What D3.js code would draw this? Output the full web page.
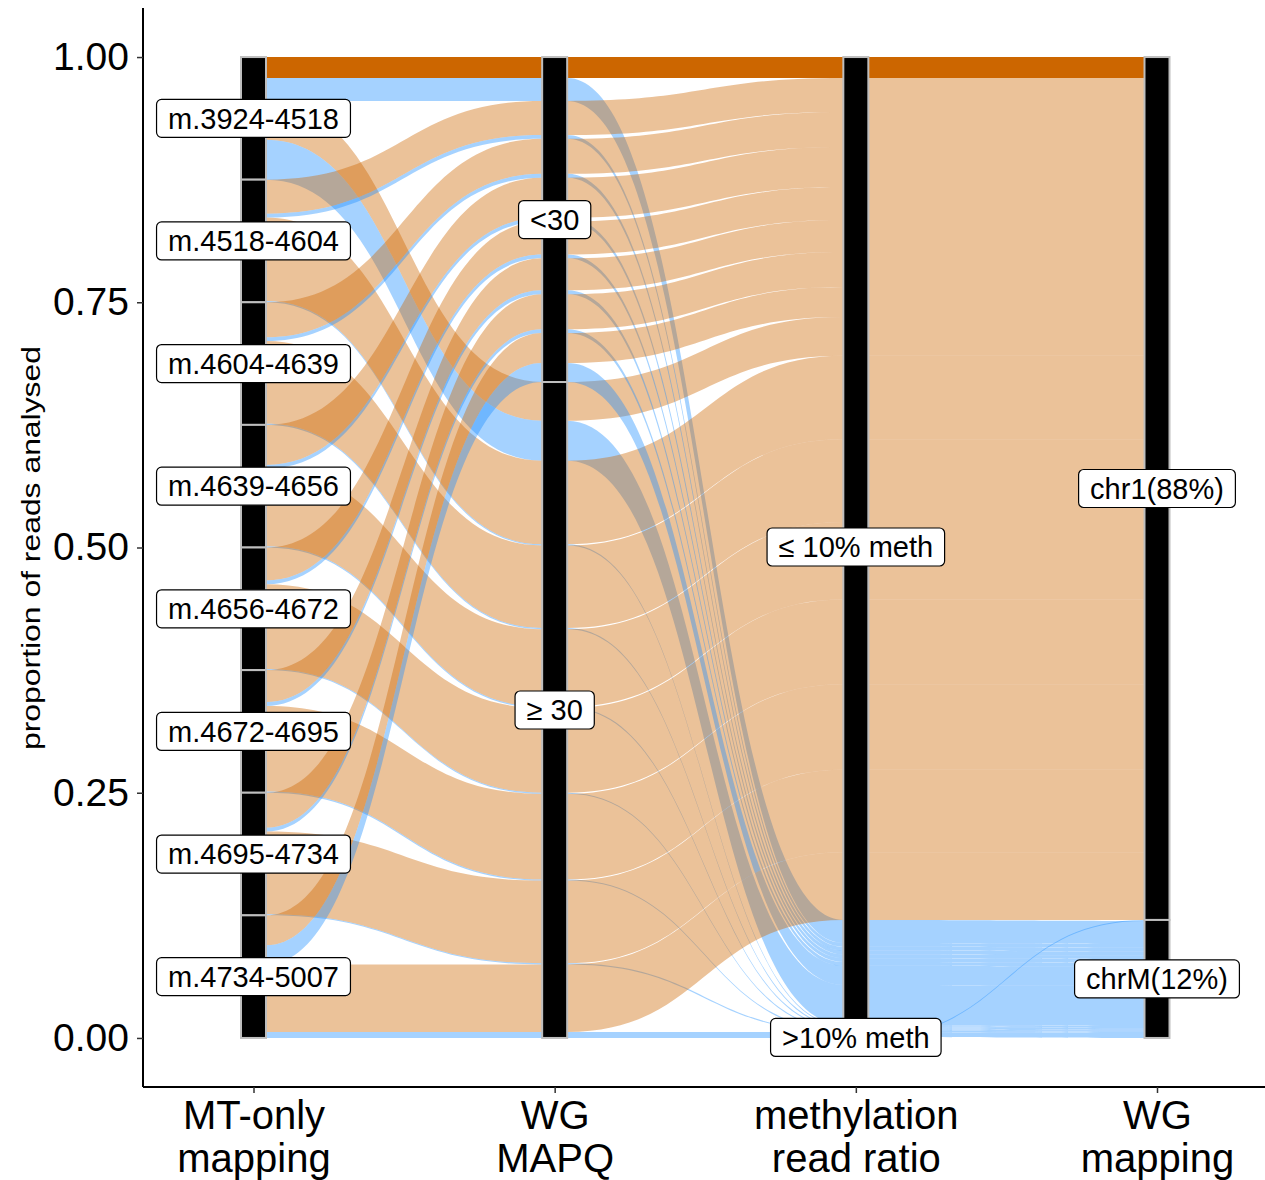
<!DOCTYPE html>
<html>
<head>
<meta charset="utf-8">
<script src="https://cdn.jsdelivr.net/npm/d3@7"></script>
<style>
  body { margin: 0; background: #fff; }
  text { font-family: "Liberation Sans", Arial, sans-serif; }
</style>
</head>
<body>
<svg id="chart" width="1265" height="1180"></svg>
<script>
// ---- categories -------------------------------------------------------
const axisTitles = [["MT-only", "mapping"], ["WG", "MAPQ"], ["methylation", "read ratio"], ["WG", "mapping"]];
const regions = ["m.3924-4518", "m.4518-4604", "m.4604-4639", "m.4639-4656",
                 "m.4656-4672", "m.4672-4695", "m.4695-4734", "m.4734-5007"];
const mapqLevels = ["<30", "\u2265 30"];
const methLevels = ["\u2264 10% meth", ">10% meth"];
const chromLevels = ["chr1(88%)", "chrM(12%)"];
const yTicks = [0, 0.25, 0.5, 0.75, 1];

// ---- proportion of analysed reads per region and path --------------------
// MAPQ < 30, <=10% methylated, WG chr1
const lowMapqChr1  = [0.0214, 0.0347, 0.0357, 0.0408, 0.0336, 0.0326, 0.0357, 0.0306];
// MAPQ < 30, <=10% methylated, WG chrM
const lowMapqChrM  = [0.0234, 0.0039, 0.0039, 0.0039, 0.0039, 0.0039, 0.0039, 0.0194];
// MAPQ >= 30, <=10% methylated, WG chr1
const highMapqChr1 = [0.0394, 0.0852, 0.0842, 0.0791, 0.0863, 0.0873, 0.0842, 0.0689];
// MAPQ >= 30, <=10% methylated, WG chrM
const highMapqChrM = [0.0408, 0.0012, 0.0012, 0.0012, 0.0012, 0.0012, 0.0012, 0.0051];
// MAPQ >= 30, >10% methylated, WG chrM
const highMapqMethChrM = [0, 0, 0, 0, 0, 0, 0, 0.0010];

// ---- alluvia ------------------------------------------------------------
const alluvia = [];
regions.forEach((name, r) => {
  const add = (mapq, meth, chrom, v) => {
    if (v > 0) alluvia.push({ strata: [r, mapq, meth, chrom], value: v, lodes: [] });
  };
  add(0, 0, 0, lowMapqChr1[r]);
  add(0, 0, 1, lowMapqChrM[r]);
  add(1, 0, 0, highMapqChr1[r]);
  add(1, 0, 1, highMapqChrM[r]);
  add(1, 1, 1, highMapqMethChrM[r]);
});

// lode ordering inside each stratum ("zigzag" guidance over the other axes)
const guidance = [
  [[0, 1], [1, 1], [2, 1], [3, 1]],
  [[1, 1], [0, 1], [2, 1], [3, 1]],
  [[2, 1], [3, 1], [1, 1], [0, 1]],
  [[3, 1], [2, -1], [1, 1], [0, 1]]
];
const strataLevels = [regions, mapqLevels, methLevels, chromLevels];
const strata = [];
guidance.forEach((keys, ax) => {
  const sorted = alluvia.slice().sort((a, b) => {
    for (const [k, s] of keys) {
      const d = (a.strata[k] - b.strata[k]) * s;
      if (d) return d;
    }
    return 0;
  });
  let cum = 1;
  sorted.forEach(a => { a.lodes[ax] = [cum, cum - a.value]; cum -= a.value; });
  // stratum extents
  strataLevels[ax].forEach((lab, si) => {
    const members = alluvia.filter(a => a.strata[ax] === si);
    if (!members.length) return;
    const top = d3.max(members, a => a.lodes[ax][0]);
    const bot = d3.min(members, a => a.lodes[ax][1]);
    strata.push({ axis: ax, label: lab, top, bot });
  });
});

// ---- scales ---------------------------------------------------------------
const svg = d3.select("#chart");
const x = d3.scalePoint().domain([0, 1, 2, 3]).range([253.5, 1157]);
const y = d3.scaleLinear().domain([-0.05, 1.05]).range([1087, 8]);
const hw = 12.5;   // half stratum width
const colour = d3.scaleOrdinal().domain([0, 1]).range(["#CC6600", "#1F8FFF"]);

// ---- flows ----------------------------------------------------------------
function alluviumPath(a) {
  const p = d3.path();
  const n = a.lodes.length;
  // top edge, left to right
  p.moveTo(x(0) - hw, y(a.lodes[0][0]));
  for (let i = 0; i < n; i++) {
    const y0 = y(a.lodes[i][0]);
    if (i > 0) {
      const xa = x(i - 1) + hw, xb = x(i) - hw, xm = (xa + xb) / 2;
      p.bezierCurveTo(xm, y(a.lodes[i - 1][0]), xm, y0, xb, y0);
    }
    p.lineTo(x(i) + hw, y0);
  }
  // bottom edge, right to left
  p.lineTo(x(n - 1) + hw, y(a.lodes[n - 1][1]));
  for (let i = n - 1; i >= 0; i--) {
    const y1 = y(a.lodes[i][1]);
    p.lineTo(x(i) - hw, y1);
    if (i > 0) {
      const xa = x(i - 1) + hw, xb = x(i) - hw, xm = (xa + xb) / 2;
      const yp = y(a.lodes[i - 1][1]);
      p.bezierCurveTo(xm, y1, xm, yp, xa, yp);
    }
  }
  p.closePath();
  return p.toString();
}

// reads of the first region with low MAPQ that stay on chr1 are stacked densely
const dense = a => a.strata[0] === 0 && a.strata[1] === 0 && a.strata[3] === 0;

svg.append("g").selectAll("path")
  .data(alluvia)
  .join("path")
  .attr("d", alluviumPath)
  .attr("fill", a => colour(a.strata[3]))
  .attr("fill-opacity", a => dense(a) ? 1 : 0.4)
  .attr("stroke", "none");

// ---- strata ---------------------------------------------------------------
svg.append("g").selectAll("rect")
  .data(strata)
  .join("rect")
  .attr("x", d => x(d.axis) - hw)
  .attr("width", hw * 2)
  .attr("y", d => y(d.top))
  .attr("height", d => Math.max(y(d.bot) - y(d.top), 0.5))
  .attr("fill", "#000")
  .attr("stroke", "#BEBEBE")
  .attr("stroke-width", 2);

// ---- axes -----------------------------------------------------------------
const yAxis = svg.append("g")
  .attr("transform", "translate(143,0)")
  .call(d3.axisLeft(y).tickValues(yTicks).tickFormat(d3.format(".2f")).tickSize(6).tickPadding(8));
yAxis.select(".domain").attr("d", "M0,8V1087").attr("stroke", "#000").attr("stroke-width", 2);
yAxis.selectAll(".tick line").attr("stroke", "#333").attr("stroke-width", 1.5);
yAxis.selectAll(".tick text").attr("font-size", 39).attr("fill", "#000")
  .attr("font-family", "Liberation Sans, Arial, sans-serif");

const xAxis = svg.append("g")
  .attr("transform", "translate(0,1087)")
  .call(d3.axisBottom(x).tickSize(6).tickFormat(() => ""));
xAxis.select(".domain").attr("d", "M143,0H1265").attr("stroke", "#000").attr("stroke-width", 2);
xAxis.selectAll(".tick line").attr("stroke", "#333").attr("stroke-width", 1.5);
xAxis.selectAll(".tick").each(function (d) {
  const t = d3.select(this).append("text")
    .attr("fill", "#000").attr("font-size", 40).attr("text-anchor", "middle")
    .attr("font-family", "Liberation Sans, Arial, sans-serif");
  axisTitles[d].forEach((line, i) => {
    t.append("tspan").attr("x", 0).attr("y", 42 + i * 43).text(line);
  });
});

svg.append("text")
  .attr("transform", "translate(40,548) rotate(-90)")
  .attr("text-anchor", "middle")
  .attr("font-size", 25)
  .attr("textLength", 404)
  .attr("lengthAdjust", "spacingAndGlyphs")
  .attr("fill", "#000")
  .text("proportion of reads analysed");

// ---- stratum labels -------------------------------------------------------
const labels = svg.append("g").selectAll("g")
  .data(strata)
  .join("g")
  .attr("transform", d => `translate(${x(d.axis)},${y((d.top + d.bot) / 2)})`);
labels.append("text")
  .attr("text-anchor", "middle")
  .attr("dy", "0.35em")
  .attr("font-size", 29)
  .attr("fill", "#000")
  .text(d => d.label);
labels.each(function () {
  const g = d3.select(this);
  const w = g.select("text").node().getComputedTextLength();
  g.insert("rect", "text")
    .attr("x", -w / 2 - 11.5).attr("width", w + 23)
    .attr("y", -19).attr("height", 38)
    .attr("rx", 5).attr("ry", 5)
    .attr("fill", "#fff").attr("stroke", "#000").attr("stroke-width", 1.2);
});
</script>
</body>
</html>
